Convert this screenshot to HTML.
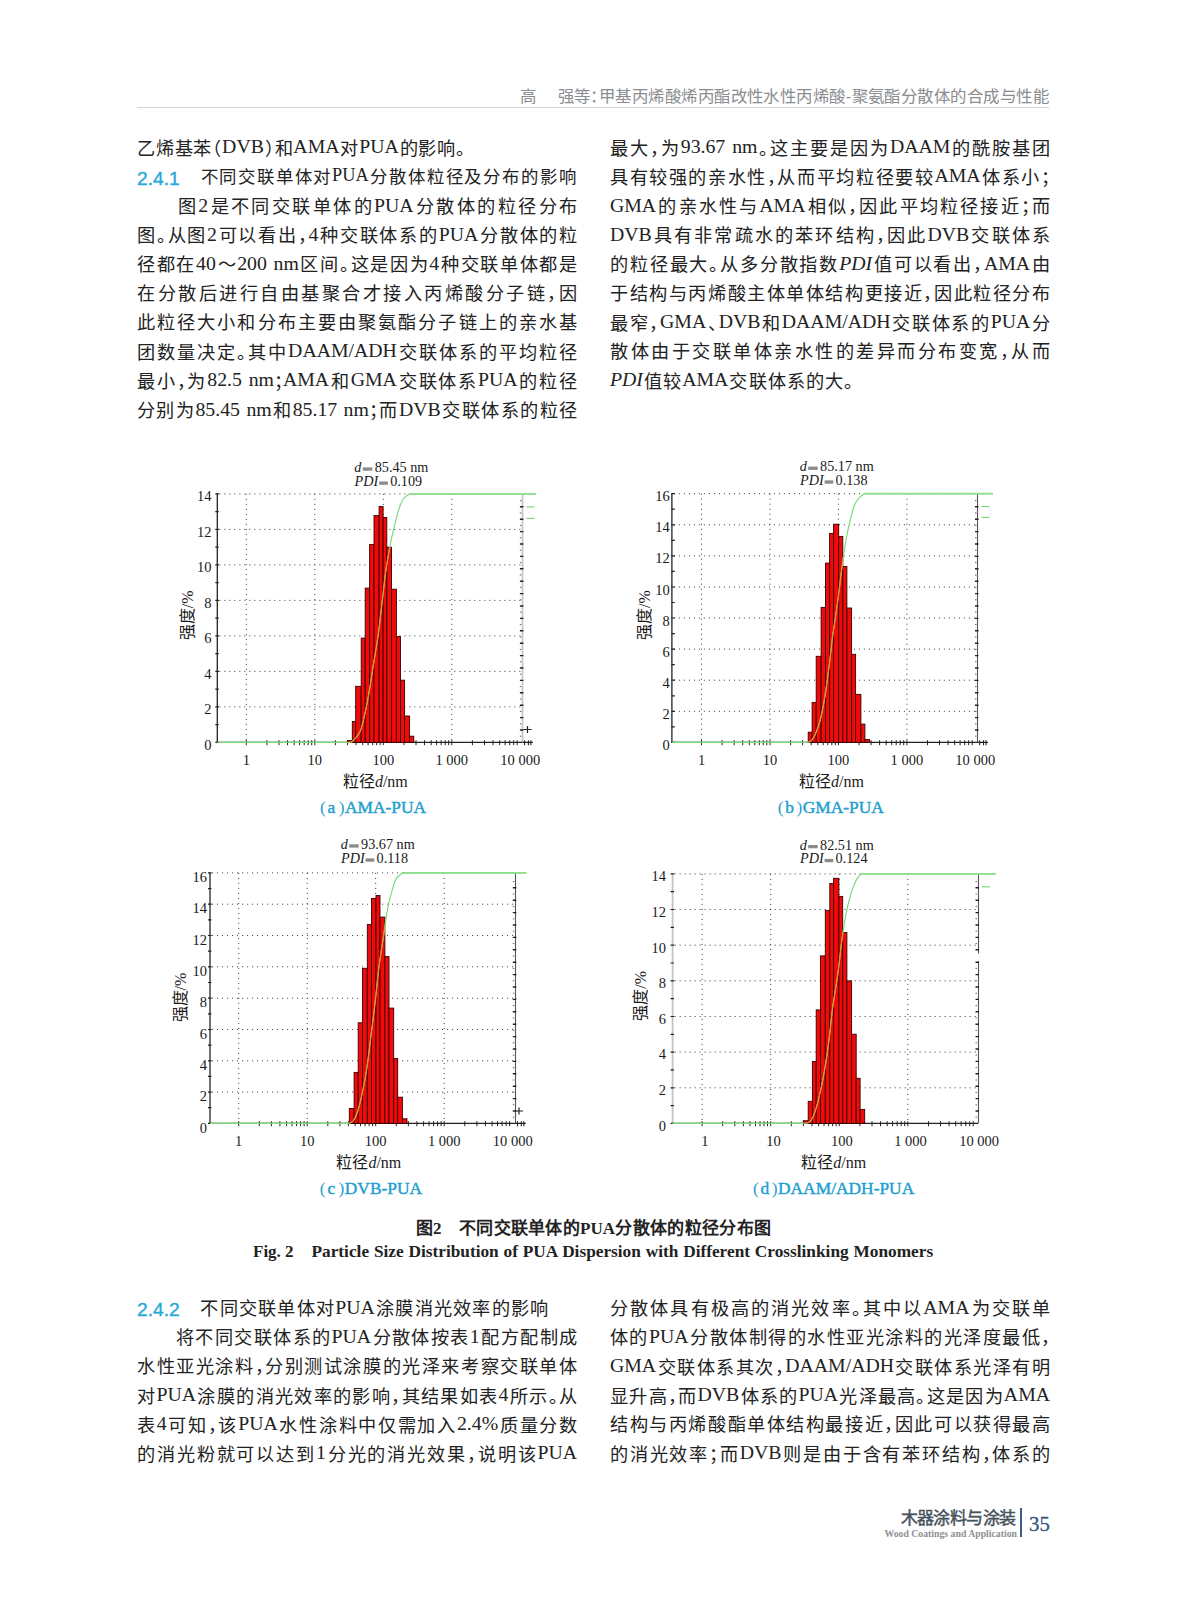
<!DOCTYPE html>
<html lang="zh-CN">
<head>
<meta charset="utf-8">
<style>
html,body{margin:0;padding:0;background:#fff;}
body{width:1187px;height:1600px;position:relative;overflow:hidden;}
.hd{position:absolute;top:86px;right:138px;font-family:"Liberation Sans",sans-serif;font-size:16.45px;letter-spacing:0.45px;font-feature-settings:"halt" 1;line-height:20px;color:#8a8d90;white-space:nowrap;}
.rule{position:absolute;left:137px;top:107px;width:912px;height:1.4px;background:#d2d4d6;}
.ln{position:absolute;width:440px;font-family:"Liberation Serif",serif;font-size:18.2px;line-height:20px;height:20px;color:#222;white-space:nowrap;text-align:justify;text-align-last:justify;font-feature-settings:"halt" 1;}
.ln.e{text-align:left;text-align-last:left;}
.L{left:137px;}
.R{left:610px;}
.sec{position:absolute;left:137px;font-family:"Liberation Sans",sans-serif;color:#26a8d8;font-size:19.2px;line-height:20px;-webkit-text-stroke:0.35px #26a8d8;}
i{font-style:italic;}
.la{font-size:19.8px;position:relative;top:-1.6px;}
.hd2 .la{font-size:18.3px;}
.cap{position:absolute;font-family:"Liberation Serif",serif;font-size:16px;color:#2aa5d4;white-space:nowrap;line-height:16px;}
.fig{position:absolute;white-space:nowrap;color:#222;}
.foot1{position:absolute;left:900.5px;top:1508.5px;font-family:"Liberation Sans",sans-serif;font-size:17px;line-height:20px;color:#46525c;white-space:nowrap;letter-spacing:-0.55px;-webkit-text-stroke:0.45px #46525c;}
.foot2{position:absolute;left:884.5px;top:1529px;font-family:"Liberation Serif",serif;font-weight:bold;font-size:9.75px;line-height:10px;color:#8e9194;white-space:nowrap;}
.bar{position:absolute;left:1020px;top:1508px;width:2px;height:29px;background:#3d5d86;}
.pg{position:absolute;left:1029px;top:1513.5px;font-family:"Liberation Serif",serif;font-size:20.8px;line-height:20px;color:#34547e;-webkit-text-stroke:0.3px #34547e;}
svg{position:absolute;left:0;top:0;}
</style>
</head>
<body>
<div class="hd">高<span style="display:inline-block;width:20.7px"></span>强等：甲基丙烯酸烯丙酯改性水性丙烯酸-聚氨酯分散体的合成与性能</div>
<div class="rule"></div>

<!-- top left column -->
<div class="ln L" style="top:137.8px;width:328px">乙烯基苯（<span class="la">DVB</span>）和<span class="la">AMA</span>对<span class="la">PUA</span>的影响。</div>
<div class="sec" style="top:169px">2.4.1</div>
<div class="ln hd2" style="top:167.0px;left:200.5px;width:375px;font-size:17.4px">不同交联单体对<span class="la">PUA</span>分散体粒径及分布的影响</div>
<div class="ln L" style="top:196.1px">　　图<span class="la">2</span>是不同交联单体的<span class="la">PUA</span>分散体的粒径分布</div>
<div class="ln L" style="top:225.2px">图。从图<span class="la">2</span>可以看出，<span class="la">4</span>种交联体系的<span class="la">PUA</span>分散体的粒</div>
<div class="ln L" style="top:254.4px">径都在<span class="la">40</span>～<span class="la">200 nm</span>区间。这是因为<span class="la">4</span>种交联单体都是</div>
<div class="ln L" style="top:283.6px">在分散后进行自由基聚合才接入丙烯酸分子链，因</div>
<div class="ln L" style="top:312.7px">此粒径大小和分布主要由聚氨酯分子链上的亲水基</div>
<div class="ln L" style="top:341.9px">团数量决定。其中<span class="la">DAAM/ADH</span>交联体系的平均粒径</div>
<div class="ln L" style="top:371.0px">最小，为<span class="la">82.5 nm</span>；<span class="la">AMA</span>和<span class="la">GMA</span>交联体系<span class="la">PUA</span>的粒径</div>
<div class="ln L" style="top:400.1px">分别为<span class="la">85.45 nm</span>和<span class="la">85.17 nm</span>；而<span class="la">DVB</span>交联体系的粒径</div>

<!-- top right column -->
<div class="ln R" style="top:137.8px">最大，为<span class="la">93.67 nm</span>。这主要是因为<span class="la">DAAM</span>的酰胺基团</div>
<div class="ln R" style="top:167.0px">具有较强的亲水性，从而平均粒径要较<span class="la">AMA</span>体系小；</div>
<div class="ln R" style="top:196.1px"><span class="la">GMA</span>的亲水性与<span class="la">AMA</span>相似，因此平均粒径接近；而</div>
<div class="ln R" style="top:225.2px"><span class="la">DVB</span>具有非常疏水的苯环结构，因此<span class="la">DVB</span>交联体系</div>
<div class="ln R" style="top:254.4px">的粒径最大。从多分散指数<i class="la">PDI</i>值可以看出，<span class="la">AMA</span>由</div>
<div class="ln R" style="top:283.6px">于结构与丙烯酸主体单体结构更接近，因此粒径分布</div>
<div class="ln R" style="top:312.7px">最窄，<span class="la">GMA</span>、<span class="la">DVB</span>和<span class="la">DAAM/ADH</span>交联体系的<span class="la">PUA</span>分</div>
<div class="ln R" style="top:341.9px">散体由于交联单体亲水性的差异而分布变宽，从而</div>
<div class="ln R" style="top:371.0px;width:243px"><i class="la">PDI</i>值较<span class="la">AMA</span>交联体系的大。</div>

<!-- figure captions -->
<div class="fig" style="left:416px;top:1218.5px;font-family:'Liberation Sans',sans-serif;font-weight:bold;font-size:17px;line-height:20px;">图<span style="font-family:'Liberation Serif',serif">2</span></div>
<div class="fig" style="left:458.9px;top:1218.5px;width:312px;text-align:justify;text-align-last:justify;font-family:'Liberation Sans',sans-serif;font-weight:bold;font-size:17px;line-height:20px;">不同交联单体的<span style="font-family:'Liberation Serif',serif">PUA</span>分散体的粒径分布图</div>
<div class="fig" style="left:253px;top:1242px;font-family:'Liberation Serif',serif;font-weight:bold;font-size:17px;line-height:20px;">Fig. 2</div>
<div class="fig" style="left:311.5px;top:1242px;font-family:'Liberation Serif',serif;font-weight:bold;font-size:17.3px;line-height:20px;word-spacing:0.5px;">Particle Size Distribution of PUA Dispersion with Different Crosslinking Monomers</div>

<!-- bottom left -->
<div class="sec" style="top:1299.6px">2.4.2</div>
<div class="ln" style="top:1298.2px;left:200.3px;width:348px">不同交联单体对<span class="la">PUA</span>涂膜消光效率的影响</div>
<div class="ln L" style="top:1327.4px">　　将不同交联体系的<span class="la">PUA</span>分散体按表<span class="la">1</span>配方配制成</div>
<div class="ln L" style="top:1356.5px">水性亚光涂料，分别测试涂膜的光泽来考察交联单体</div>
<div class="ln L" style="top:1385.7px">对<span class="la">PUA</span>涂膜的消光效率的影响，其结果如表<span class="la">4</span>所示。从</div>
<div class="ln L" style="top:1414.8px">表<span class="la">4</span>可知，该<span class="la">PUA</span>水性涂料中仅需加入<span class="la">2.4%</span>质量分数</div>
<div class="ln L" style="top:1444.0px">的消光粉就可以达到<span class="la">1</span>分光的消光效果，说明该<span class="la">PUA</span></div>

<!-- bottom right -->
<div class="ln R" style="top:1298.2px">分散体具有极高的消光效率。其中以<span class="la">AMA</span>为交联单</div>
<div class="ln R" style="top:1327.4px">体的<span class="la">PUA</span>分散体制得的水性亚光涂料的光泽度最低，</div>
<div class="ln R" style="top:1356.5px"><span class="la">GMA</span>交联体系其次，<span class="la">DAAM/ADH</span>交联体系光泽有明</div>
<div class="ln R" style="top:1385.7px">显升高，而<span class="la">DVB</span>体系的<span class="la">PUA</span>光泽最高。这是因为<span class="la">AMA</span></div>
<div class="ln R" style="top:1414.8px">结构与丙烯酸酯单体结构最接近，因此可以获得最高</div>
<div class="ln R" style="top:1444.0px">的消光效率；而<span class="la">DVB</span>则是由于含有苯环结构，体系的</div>

<!-- footer -->
<div class="foot1">木器涂料与涂装</div>
<div class="foot2">Wood Coatings and Application</div>
<div class="bar"></div>
<div class="pg">35</div>

<!--CHARTS-->
<svg width="1187" height="1600" viewBox="0 0 1187 1600">
<style>.gd{stroke:#4a4a4a;stroke-width:1;stroke-dasharray:1.1 3.9;}</style>
<line x1="219.3" y1="706.9" x2="522.4" y2="706.9" class="gd"/>
<line x1="219.3" y1="671.4" x2="522.4" y2="671.4" class="gd"/>
<line x1="219.3" y1="635.9" x2="522.4" y2="635.9" class="gd"/>
<line x1="219.3" y1="600.4" x2="522.4" y2="600.4" class="gd"/>
<line x1="219.3" y1="564.9" x2="522.4" y2="564.9" class="gd"/>
<line x1="219.3" y1="529.4" x2="522.4" y2="529.4" class="gd"/>
<line x1="219.3" y1="493.9" x2="522.4" y2="493.9" class="gd"/>
<line x1="246.3" y1="493.9" x2="246.3" y2="742.4" class="gd"/>
<line x1="314.8" y1="493.9" x2="314.8" y2="742.4" class="gd"/>
<line x1="383.3" y1="493.9" x2="383.3" y2="742.4" class="gd"/>
<line x1="451.8" y1="493.9" x2="451.8" y2="742.4" class="gd"/>
<line x1="522.5" y1="493.9" x2="522.5" y2="742.4" stroke="#c8c8c8" stroke-width="1.8"/>
<path d="M519.9 730h3.5 M519.9 717.6h3.5 M519.9 705.2h3.5 M519.9 692.8h3.5 M519.9 680.4h3.5 M519.9 668h3.5 M519.9 655.6h3.5 M519.9 643.2h3.5 M519.9 630.8h3.5 M519.9 618.4h3.5 M519.9 606h3.5 M519.9 593.6h3.5 M519.9 581.2h3.5 M519.9 568.8h3.5 M519.9 556.4h3.5 M519.9 544h3.5 M519.9 531.6h3.5 M519.9 519.2h3.5 M519.9 506.8h3.5" stroke="#222" stroke-width="1.4"/>
<path d="M519.9 736.2h1.5 M519.9 723.8h1.5 M519.9 711.4h1.5 M519.9 699h1.5 M519.9 686.6h1.5 M519.9 674.2h1.5 M519.9 661.8h1.5 M519.9 649.4h1.5 M519.9 637h1.5 M519.9 624.6h1.5 M519.9 612.2h1.5 M519.9 599.8h1.5 M519.9 587.4h1.5 M519.9 575h1.5 M519.9 562.6h1.5 M519.9 550.2h1.5 M519.9 537.8h1.5 M519.9 525.4h1.5 M519.9 513h1.5 M519.9 500.6h1.5" stroke="#666" stroke-width="1"/>
<path d="M523.5 729.5h8M527.5 726v7" stroke="#222" stroke-width="1.2"/>
<path d="M522.4 742.4h10.5M524.6 740.2v5M528.4 740.2v5M530.9 740.2v5" stroke="#222" stroke-width="1.1"/>
<line x1="217.3" y1="742.4" x2="522.4" y2="742.4" stroke="#222" stroke-width="1.2"/>
<path d="M246.3 740.2v5 M266.9 740.2v5 M279 740.2v5 M287.5 740.2v5 M294.2 740.2v5 M299.6 740.2v5 M304.2 740.2v5 M308.2 740.2v5 M311.7 740.2v5 M314.8 740.2v5 M335.4 740.2v5 M347.5 740.2v5 M356 740.2v5 M362.7 740.2v5 M368.1 740.2v5 M372.7 740.2v5 M376.7 740.2v5 M380.2 740.2v5 M383.3 740.2v5 M403.9 740.2v5 M416 740.2v5 M424.5 740.2v5 M431.2 740.2v5 M436.6 740.2v5 M441.2 740.2v5 M445.2 740.2v5 M448.7 740.2v5 M451.8 740.2v5 M472.4 740.2v5 M484.5 740.2v5 M493 740.2v5 M499.7 740.2v5 M505.1 740.2v5 M509.7 740.2v5 M513.7 740.2v5 M517.2 740.2v5" stroke="#222" stroke-width="1"/>
<line x1="217.3" y1="493.4" x2="217.3" y2="742.9" stroke="#222" stroke-width="1.3"/>
<path d="M215.3 742.4h3.6 M215.3 724.6h3.4 M215.3 706.9h3.6 M215.3 689.1h3.4 M215.3 671.4h3.6 M215.3 653.6h3.4 M215.3 635.9h3.6 M215.3 618.1h3.4 M215.3 600.4h3.6 M215.3 582.6h3.4 M215.3 564.9h3.6 M215.3 547.1h3.4 M215.3 529.4h3.6 M215.3 511.6h3.4 M215.3 493.9h3.6" stroke="#222" stroke-width="1.2"/>
<g fill="#f00a0a" stroke="#3a0000" stroke-width="0.9"><rect x="347.5" y="740.5" width="4.8" height="1.9"/><rect x="352.3" y="721.5" width="3.4" height="20.9"/><rect x="355.7" y="686.3" width="5.5" height="56.1"/><rect x="361.2" y="638.1" width="4" height="104.3"/><rect x="365.2" y="588.1" width="4.4" height="154.3"/><rect x="369.6" y="544.5" width="4.4" height="197.9"/><rect x="374" y="515.6" width="5.1" height="226.8"/><rect x="379.1" y="506.5" width="4" height="235.9"/><rect x="383.1" y="517.5" width="3.7" height="224.9"/><rect x="386.8" y="547.2" width="4.7" height="195.2"/><rect x="391.5" y="589.2" width="4.9" height="153.2"/><rect x="396.4" y="636.6" width="4.1" height="105.8"/><rect x="400.5" y="680.2" width="4.1" height="62.2"/><rect x="404.6" y="716" width="5" height="26.4"/><rect x="409.6" y="736.2" width="4.2" height="6.2"/></g>
<path d="M217.3 742.4L346.5 742.4C347.3 742.4 349.9 742.7 351.3 742.1C352.7 741.6 353.2 741 354.7 739.2C356.2 737.4 358.6 735.1 360.2 731.3C361.8 727.6 362.8 722.8 364.2 716.7C365.6 710.7 367.1 703.3 368.6 695.1C370.1 686.8 371.4 677.2 373 667.3C374.6 657.4 376.6 646.3 378.1 635.5C379.6 624.7 380.8 613.2 382.1 602.4C383.4 591.7 384.4 580.7 385.8 570.9C387.2 561.1 388.9 551.7 390.5 543.5C392.1 535.4 393.9 528.1 395.4 522C396.9 516 398.1 511.1 399.5 507.2C400.9 503.3 401.9 500.7 403.6 498.5C405.3 496.3 408.7 494.7 409.7 493.9L536 493.9" fill="none" stroke="#78da78" stroke-width="1.15"/>
<line x1="409.7" y1="493.9" x2="536" y2="493.9" stroke="#8ee08e" stroke-width="1.8"/>
<clipPath id="clipa"><rect x="347.5" y="740.5" width="4.8" height="1.9"/><rect x="352.3" y="721.5" width="3.4" height="20.9"/><rect x="355.7" y="686.3" width="5.5" height="56.1"/><rect x="361.2" y="638.1" width="4" height="104.3"/><rect x="365.2" y="588.1" width="4.4" height="154.3"/><rect x="369.6" y="544.5" width="4.4" height="197.9"/><rect x="374" y="515.6" width="5.1" height="226.8"/><rect x="379.1" y="506.5" width="4" height="235.9"/><rect x="383.1" y="517.5" width="3.7" height="224.9"/><rect x="386.8" y="547.2" width="4.7" height="195.2"/><rect x="391.5" y="589.2" width="4.9" height="153.2"/><rect x="396.4" y="636.6" width="4.1" height="105.8"/><rect x="400.5" y="680.2" width="4.1" height="62.2"/><rect x="404.6" y="716" width="5" height="26.4"/><rect x="409.6" y="736.2" width="4.2" height="6.2"/></clipPath>
<path d="M217.3 742.4L346.5 742.4C347.3 742.4 349.9 742.7 351.3 742.1C352.7 741.6 353.2 741 354.7 739.2C356.2 737.4 358.6 735.1 360.2 731.3C361.8 727.6 362.8 722.8 364.2 716.7C365.6 710.7 367.1 703.3 368.6 695.1C370.1 686.8 371.4 677.2 373 667.3C374.6 657.4 376.6 646.3 378.1 635.5C379.6 624.7 380.8 613.2 382.1 602.4C383.4 591.7 384.4 580.7 385.8 570.9C387.2 561.1 388.9 551.7 390.5 543.5C392.1 535.4 393.9 528.1 395.4 522C396.9 516 398.1 511.1 399.5 507.2C400.9 503.3 401.9 500.7 403.6 498.5C405.3 496.3 408.7 494.7 409.7 493.9L536 493.9" fill="none" stroke="#f09028" stroke-width="1" clip-path="url(#clipa)"/>
<line x1="526.4" y1="506.9" x2="534.4" y2="506.9" stroke="#7ad87a" stroke-width="1.2"/>
<line x1="526.4" y1="518.4" x2="534.4" y2="518.4" stroke="#7ad87a" stroke-width="1.2"/>
<g font-family="'Liberation Serif',serif" font-size="14.5" fill="#1a1a1a"><text x="211.4" y="749.9" text-anchor="end">0</text><text x="211.4" y="714.4" text-anchor="end">2</text><text x="211.4" y="678.9" text-anchor="end">4</text><text x="211.4" y="643.4" text-anchor="end">6</text><text x="211.4" y="607.9" text-anchor="end">8</text><text x="211.4" y="572.4" text-anchor="end">10</text><text x="211.4" y="536.9" text-anchor="end">12</text><text x="211.4" y="501.4" text-anchor="end">14</text><text x="246.3" y="764.9" text-anchor="middle">1</text><text x="314.8" y="764.9" text-anchor="middle">10</text><text x="383.3" y="764.9" text-anchor="middle">100</text><text x="451.8" y="764.9" text-anchor="middle">1 000</text><text x="520.3" y="764.9" text-anchor="middle">10 000</text></g>
<g font-family="'Liberation Serif',serif" font-size="14.2" fill="#1a1a1a"><text x="354.3" y="472" font-style="italic">d</text><text x="374.7" y="472">85.45 nm</text><text x="354.6" y="485.9" font-style="italic">PDI</text><text x="390.2" y="485.9">0.109</text></g>
<rect x="362.8" y="467.4" width="9.5" height="3.3" fill="#8a8a8a"/>
<rect x="379.2" y="481.5" width="8.7" height="3.3" fill="#8a8a8a"/>
<text x="342.9" y="787" font-family="'Liberation Serif',serif" font-size="16" fill="#1a1a1a">粒径<tspan font-style="italic">d</tspan>/nm</text>
<text transform="translate(192.7 615.4) rotate(-90)" text-anchor="middle" font-family="'Liberation Serif',serif" font-size="16" fill="#1a1a1a">强度/%</text>
<g font-family="'Liberation Serif',serif" font-size="17.4" fill="#1fa0cf"><text x="320" y="812.6">(</text><text x="327.6" y="812.6" stroke="#1fa0cf" stroke-width="0.45">a</text><text x="338.8" y="812.6">)</text><text x="345" y="812.6" stroke="#1fa0cf" stroke-width="0.45">AMA-PUA</text></g>
<line x1="673.9" y1="711.3" x2="977.5" y2="711.3" class="gd"/>
<line x1="673.9" y1="680.2" x2="977.5" y2="680.2" class="gd"/>
<line x1="673.9" y1="649.1" x2="977.5" y2="649.1" class="gd"/>
<line x1="673.9" y1="618" x2="977.5" y2="618" class="gd"/>
<line x1="673.9" y1="587" x2="977.5" y2="587" class="gd"/>
<line x1="673.9" y1="555.9" x2="977.5" y2="555.9" class="gd"/>
<line x1="673.9" y1="524.8" x2="977.5" y2="524.8" class="gd"/>
<line x1="673.9" y1="493.7" x2="977.5" y2="493.7" class="gd"/>
<line x1="701.5" y1="493.7" x2="701.5" y2="742.4" class="gd"/>
<line x1="770" y1="493.7" x2="770" y2="742.4" class="gd"/>
<line x1="838.4" y1="493.7" x2="838.4" y2="742.4" class="gd"/>
<line x1="906.9" y1="493.7" x2="906.9" y2="742.4" class="gd"/>
<line x1="977.5" y1="493.7" x2="977.5" y2="742.4" stroke="#555" stroke-width="1.1"/>
<path d="M975 730h3.5 M975 717.6h3.5 M975 705.2h3.5 M975 692.8h3.5 M975 680.4h3.5 M975 668h3.5 M975 655.6h3.5 M975 643.2h3.5 M975 630.8h3.5 M975 618.4h3.5 M975 606h3.5 M975 593.6h3.5 M975 581.2h3.5 M975 568.8h3.5 M975 556.4h3.5 M975 544h3.5 M975 531.6h3.5 M975 519.2h3.5 M975 506.8h3.5" stroke="#222" stroke-width="1.4"/>
<path d="M975 736.2h1.5 M975 723.8h1.5 M975 711.4h1.5 M975 699h1.5 M975 686.6h1.5 M975 674.2h1.5 M975 661.8h1.5 M975 649.4h1.5 M975 637h1.5 M975 624.6h1.5 M975 612.2h1.5 M975 599.8h1.5 M975 587.4h1.5 M975 575h1.5 M975 562.6h1.5 M975 550.2h1.5 M975 537.8h1.5 M975 525.4h1.5 M975 513h1.5 M975 500.6h1.5" stroke="#666" stroke-width="1"/>
<path d="M977.5 742.4h10.5M979.7 740.2v5M983.5 740.2v5M986 740.2v5" stroke="#222" stroke-width="1.1"/>
<line x1="671.9" y1="742.4" x2="977.5" y2="742.4" stroke="#222" stroke-width="1.2"/>
<path d="M701.5 740.2v5 M722.1 740.2v5 M734.2 740.2v5 M742.7 740.2v5 M749.3 740.2v5 M754.8 740.2v5 M759.3 740.2v5 M763.3 740.2v5 M766.8 740.2v5 M770 740.2v5 M790.6 740.2v5 M802.6 740.2v5 M811.2 740.2v5 M817.8 740.2v5 M823.2 740.2v5 M827.8 740.2v5 M831.8 740.2v5 M835.3 740.2v5 M838.4 740.2v5 M859 740.2v5 M871.1 740.2v5 M879.6 740.2v5 M886.2 740.2v5 M891.7 740.2v5 M896.2 740.2v5 M900.2 740.2v5 M903.7 740.2v5 M906.9 740.2v5 M927.5 740.2v5 M939.5 740.2v5 M948.1 740.2v5 M954.7 740.2v5 M960.1 740.2v5 M964.7 740.2v5 M968.7 740.2v5 M972.2 740.2v5" stroke="#222" stroke-width="1"/>
<line x1="671.9" y1="493.2" x2="671.9" y2="742.9" stroke="#222" stroke-width="1.3"/>
<path d="M671.4 742.4h3.6 M671.4 726.9h3.4 M671.4 711.3h3.6 M671.4 695.8h3.4 M671.4 680.2h3.6 M671.4 664.7h3.4 M671.4 649.1h3.6 M671.4 633.6h3.4 M671.4 618h3.6 M671.4 602.5h3.4 M671.4 587h3.6 M671.4 571.4h3.4 M671.4 555.9h3.6 M671.4 540.3h3.4 M671.4 524.8h3.6 M671.4 509.2h3.4 M671.4 493.7h3.6" stroke="#222" stroke-width="1.2"/>
<g fill="#f00a0a" stroke="#3a0000" stroke-width="0.9"><rect x="808.2" y="732.2" width="3.9" height="10.2"/><rect x="812.1" y="702.4" width="4.1" height="40"/><rect x="816.2" y="656.3" width="4.9" height="86.1"/><rect x="821.1" y="607.4" width="4.4" height="135"/><rect x="825.5" y="563.1" width="4.1" height="179.3"/><rect x="829.6" y="533.4" width="4" height="209"/><rect x="833.6" y="524.2" width="5.1" height="218.2"/><rect x="838.7" y="536.5" width="4.1" height="205.9"/><rect x="842.8" y="566.5" width="4.1" height="175.9"/><rect x="846.9" y="608" width="4.7" height="134.4"/><rect x="851.6" y="654.3" width="4" height="88.1"/><rect x="855.6" y="694.4" width="5.3" height="48"/><rect x="860.9" y="724.1" width="4" height="18.3"/><rect x="864.9" y="739.6" width="4.7" height="2.8"/></g>
<path d="M671.9 742.4L807.2 742.4C807.9 742.1 809.8 742.1 811.1 740.8C812.4 739.4 813.7 737.7 815.2 734.4C816.7 731 818.6 726.5 820.1 720.5C821.6 714.6 823.1 707.3 824.5 698.9C825.9 690.5 827.2 680.5 828.6 670.2C830 659.8 831.1 648.1 832.6 636.6C834.1 625.2 836.2 613 837.7 601.7C839.2 590.3 840.4 578.9 841.8 568.7C843.2 558.5 844.4 548.7 845.9 540.5C847.4 532.2 849.1 524.8 850.6 518.9C852.1 513 853.1 508.4 854.6 504.8C856.1 501.1 858.3 498.9 859.9 497.1C861.5 495.2 863.6 494.3 864.4 493.7L993 493.7" fill="none" stroke="#78da78" stroke-width="1.15"/>
<line x1="864.4" y1="493.7" x2="993" y2="493.7" stroke="#8ee08e" stroke-width="1.8"/>
<clipPath id="clipb"><rect x="808.2" y="732.2" width="3.9" height="10.2"/><rect x="812.1" y="702.4" width="4.1" height="40"/><rect x="816.2" y="656.3" width="4.9" height="86.1"/><rect x="821.1" y="607.4" width="4.4" height="135"/><rect x="825.5" y="563.1" width="4.1" height="179.3"/><rect x="829.6" y="533.4" width="4" height="209"/><rect x="833.6" y="524.2" width="5.1" height="218.2"/><rect x="838.7" y="536.5" width="4.1" height="205.9"/><rect x="842.8" y="566.5" width="4.1" height="175.9"/><rect x="846.9" y="608" width="4.7" height="134.4"/><rect x="851.6" y="654.3" width="4" height="88.1"/><rect x="855.6" y="694.4" width="5.3" height="48"/><rect x="860.9" y="724.1" width="4" height="18.3"/><rect x="864.9" y="739.6" width="4.7" height="2.8"/></clipPath>
<path d="M671.9 742.4L807.2 742.4C807.9 742.1 809.8 742.1 811.1 740.8C812.4 739.4 813.7 737.7 815.2 734.4C816.7 731 818.6 726.5 820.1 720.5C821.6 714.6 823.1 707.3 824.5 698.9C825.9 690.5 827.2 680.5 828.6 670.2C830 659.8 831.1 648.1 832.6 636.6C834.1 625.2 836.2 613 837.7 601.7C839.2 590.3 840.4 578.9 841.8 568.7C843.2 558.5 844.4 548.7 845.9 540.5C847.4 532.2 849.1 524.8 850.6 518.9C852.1 513 853.1 508.4 854.6 504.8C856.1 501.1 858.3 498.9 859.9 497.1C861.5 495.2 863.6 494.3 864.4 493.7L993 493.7" fill="none" stroke="#f09028" stroke-width="1" clip-path="url(#clipb)"/>
<line x1="981.5" y1="506.5" x2="989.5" y2="506.5" stroke="#7ad87a" stroke-width="1.2"/>
<line x1="981.5" y1="517.4" x2="989.5" y2="517.4" stroke="#7ad87a" stroke-width="1.2"/>
<g font-family="'Liberation Serif',serif" font-size="14.5" fill="#1a1a1a"><text x="669.7" y="749.9" text-anchor="end">0</text><text x="669.7" y="718.8" text-anchor="end">2</text><text x="669.7" y="687.7" text-anchor="end">4</text><text x="669.7" y="656.6" text-anchor="end">6</text><text x="669.7" y="625.5" text-anchor="end">8</text><text x="669.7" y="594.5" text-anchor="end">10</text><text x="669.7" y="563.4" text-anchor="end">12</text><text x="669.7" y="532.3" text-anchor="end">14</text><text x="669.7" y="501.2" text-anchor="end">16</text><text x="701.5" y="764.9" text-anchor="middle">1</text><text x="770" y="764.9" text-anchor="middle">10</text><text x="838.4" y="764.9" text-anchor="middle">100</text><text x="906.9" y="764.9" text-anchor="middle">1 000</text><text x="975.3" y="764.9" text-anchor="middle">10 000</text></g>
<g font-family="'Liberation Serif',serif" font-size="14.2" fill="#1a1a1a"><text x="799.7" y="471.2" font-style="italic">d</text><text x="820.1" y="471.2">85.17 nm</text><text x="800" y="484.8" font-style="italic">PDI</text><text x="835.6" y="484.8">0.138</text></g>
<rect x="808.2" y="466.6" width="9.5" height="3.3" fill="#8a8a8a"/>
<rect x="824.6" y="480.4" width="8.7" height="3.3" fill="#8a8a8a"/>
<text x="799" y="787" font-family="'Liberation Serif',serif" font-size="16" fill="#1a1a1a">粒径<tspan font-style="italic">d</tspan>/nm</text>
<text transform="translate(649.5 615.1) rotate(-90)" text-anchor="middle" font-family="'Liberation Serif',serif" font-size="16" fill="#1a1a1a">强度/%</text>
<g font-family="'Liberation Serif',serif" font-size="17.4" fill="#1fa0cf"><text x="777.7" y="812.6">(</text><text x="785.3" y="812.6" stroke="#1fa0cf" stroke-width="0.45">b</text><text x="796.5" y="812.6">)</text><text x="802.7" y="812.6" stroke="#1fa0cf" stroke-width="0.45">GMA-PUA</text></g>
<line x1="212" y1="1092.1" x2="515.3" y2="1092.1" class="gd"/>
<line x1="212" y1="1060.8" x2="515.3" y2="1060.8" class="gd"/>
<line x1="212" y1="1029.5" x2="515.3" y2="1029.5" class="gd"/>
<line x1="212" y1="998.2" x2="515.3" y2="998.2" class="gd"/>
<line x1="212" y1="966.8" x2="515.3" y2="966.8" class="gd"/>
<line x1="212" y1="935.5" x2="515.3" y2="935.5" class="gd"/>
<line x1="212" y1="904.2" x2="515.3" y2="904.2" class="gd"/>
<line x1="212" y1="872.9" x2="515.3" y2="872.9" class="gd"/>
<line x1="238.7" y1="872.9" x2="238.7" y2="1123.4" class="gd"/>
<line x1="307.2" y1="872.9" x2="307.2" y2="1123.4" class="gd"/>
<line x1="375.7" y1="872.9" x2="375.7" y2="1123.4" class="gd"/>
<line x1="444.2" y1="872.9" x2="444.2" y2="1123.4" class="gd"/>
<line x1="515.5" y1="872.9" x2="515.5" y2="1123.4" stroke="#555" stroke-width="1.1"/>
<path d="M512.8 1111h3.5 M512.8 1098.6h3.5 M512.8 1086.2h3.5 M512.8 1073.8h3.5 M512.8 1061.4h3.5 M512.8 1049h3.5 M512.8 1036.6h3.5 M512.8 1024.2h3.5 M512.8 1011.8h3.5 M512.8 999.4h3.5 M512.8 987h3.5 M512.8 974.6h3.5 M512.8 962.2h3.5 M512.8 949.8h3.5 M512.8 937.4h3.5 M512.8 925h3.5 M512.8 912.6h3.5 M512.8 900.2h3.5 M512.8 887.8h3.5" stroke="#222" stroke-width="1.4"/>
<path d="M512.8 1117.2h1.5 M512.8 1104.8h1.5 M512.8 1092.4h1.5 M512.8 1080h1.5 M512.8 1067.6h1.5 M512.8 1055.2h1.5 M512.8 1042.8h1.5 M512.8 1030.4h1.5 M512.8 1018h1.5 M512.8 1005.6h1.5 M512.8 993.2h1.5 M512.8 980.8h1.5 M512.8 968.4h1.5 M512.8 956h1.5 M512.8 943.6h1.5 M512.8 931.2h1.5 M512.8 918.8h1.5 M512.8 906.4h1.5 M512.8 894h1.5 M512.8 881.6h1.5" stroke="#666" stroke-width="1"/>
<path d="M515 1111h8M519 1107.5v7" stroke="#222" stroke-width="1.2"/>
<path d="M515.3 1123.4h10.5M517.5 1121.2v5M521.3 1121.2v5M523.8 1121.2v5" stroke="#222" stroke-width="1.1"/>
<line x1="210" y1="1123.4" x2="515.3" y2="1123.4" stroke="#222" stroke-width="1.2"/>
<path d="M238.7 1121.2v5 M259.3 1121.2v5 M271.4 1121.2v5 M279.9 1121.2v5 M286.6 1121.2v5 M292 1121.2v5 M296.6 1121.2v5 M300.6 1121.2v5 M304.1 1121.2v5 M307.2 1121.2v5 M327.8 1121.2v5 M339.9 1121.2v5 M348.4 1121.2v5 M355.1 1121.2v5 M360.5 1121.2v5 M365.1 1121.2v5 M369.1 1121.2v5 M372.6 1121.2v5 M375.7 1121.2v5 M396.3 1121.2v5 M408.4 1121.2v5 M416.9 1121.2v5 M423.6 1121.2v5 M429 1121.2v5 M433.6 1121.2v5 M437.6 1121.2v5 M441.1 1121.2v5 M444.2 1121.2v5 M464.8 1121.2v5 M476.9 1121.2v5 M485.4 1121.2v5 M492.1 1121.2v5 M497.5 1121.2v5 M502.1 1121.2v5 M506.1 1121.2v5 M509.6 1121.2v5" stroke="#222" stroke-width="1"/>
<line x1="210" y1="872.4" x2="210" y2="1123.9" stroke="#222" stroke-width="1.3"/>
<path d="M208 1123.4h3.6 M208 1107.7h3.4 M208 1092.1h3.6 M208 1076.4h3.4 M208 1060.8h3.6 M208 1045.1h3.4 M208 1029.5h3.6 M208 1013.8h3.4 M208 998.2h3.6 M208 982.5h3.4 M208 966.8h3.6 M208 951.2h3.4 M208 935.5h3.6 M208 919.9h3.4 M208 904.2h3.6 M208 888.6h3.4 M208 872.9h3.6" stroke="#222" stroke-width="1.2"/>
<g fill="#f00a0a" stroke="#3a0000" stroke-width="0.9"><rect x="349.3" y="1108.5" width="4.8" height="14.9"/><rect x="354.1" y="1072.4" width="4.1" height="51"/><rect x="358.2" y="1022.8" width="4.3" height="100.6"/><rect x="362.5" y="968.3" width="4.8" height="155.1"/><rect x="367.3" y="924.4" width="4.2" height="199"/><rect x="371.5" y="898.4" width="4.5" height="225"/><rect x="376" y="895.5" width="4" height="227.9"/><rect x="380" y="917.1" width="4.9" height="206.3"/><rect x="384.9" y="956.6" width="4.1" height="166.8"/><rect x="389" y="1008.1" width="4.7" height="115.3"/><rect x="393.7" y="1058.6" width="4" height="64.8"/><rect x="397.7" y="1097.2" width="4.7" height="26.2"/><rect x="402.4" y="1118.8" width="4.6" height="4.6"/></g>
<path d="M210 1123.4L348.3 1123.4C349.1 1123 351.6 1122.8 353.1 1121C354.6 1119.2 355.8 1116.9 357.2 1112.8C358.6 1108.7 360 1103.5 361.5 1096.6C363 1089.8 364.8 1081.2 366.3 1071.7C367.8 1062.2 369.1 1051 370.5 1039.7C371.9 1028.3 373.6 1015.6 375 1003.5C376.4 991.3 377.5 978.5 379 966.8C380.5 955.2 382.4 943.6 383.9 933.6C385.4 923.6 386.5 914.4 388 906.8C389.5 899.3 391.2 893.1 392.7 888.3C394.1 883.4 395 880.4 396.7 877.9C398.4 875.3 401.9 873.7 402.9 872.9L526.3 872.9" fill="none" stroke="#78da78" stroke-width="1.15"/>
<line x1="402.9" y1="872.9" x2="526.3" y2="872.9" stroke="#8ee08e" stroke-width="1.8"/>
<clipPath id="clipc"><rect x="349.3" y="1108.5" width="4.8" height="14.9"/><rect x="354.1" y="1072.4" width="4.1" height="51"/><rect x="358.2" y="1022.8" width="4.3" height="100.6"/><rect x="362.5" y="968.3" width="4.8" height="155.1"/><rect x="367.3" y="924.4" width="4.2" height="199"/><rect x="371.5" y="898.4" width="4.5" height="225"/><rect x="376" y="895.5" width="4" height="227.9"/><rect x="380" y="917.1" width="4.9" height="206.3"/><rect x="384.9" y="956.6" width="4.1" height="166.8"/><rect x="389" y="1008.1" width="4.7" height="115.3"/><rect x="393.7" y="1058.6" width="4" height="64.8"/><rect x="397.7" y="1097.2" width="4.7" height="26.2"/><rect x="402.4" y="1118.8" width="4.6" height="4.6"/></clipPath>
<path d="M210 1123.4L348.3 1123.4C349.1 1123 351.6 1122.8 353.1 1121C354.6 1119.2 355.8 1116.9 357.2 1112.8C358.6 1108.7 360 1103.5 361.5 1096.6C363 1089.8 364.8 1081.2 366.3 1071.7C367.8 1062.2 369.1 1051 370.5 1039.7C371.9 1028.3 373.6 1015.6 375 1003.5C376.4 991.3 377.5 978.5 379 966.8C380.5 955.2 382.4 943.6 383.9 933.6C385.4 923.6 386.5 914.4 388 906.8C389.5 899.3 391.2 893.1 392.7 888.3C394.1 883.4 395 880.4 396.7 877.9C398.4 875.3 401.9 873.7 402.9 872.9L526.3 872.9" fill="none" stroke="#f09028" stroke-width="1" clip-path="url(#clipc)"/>
<g font-family="'Liberation Serif',serif" font-size="14.5" fill="#1a1a1a"><text x="207" y="1132.6" text-anchor="end">0</text><text x="207" y="1101.3" text-anchor="end">2</text><text x="207" y="1070" text-anchor="end">4</text><text x="207" y="1038.7" text-anchor="end">6</text><text x="207" y="1007.4" text-anchor="end">8</text><text x="207" y="976" text-anchor="end">10</text><text x="207" y="944.7" text-anchor="end">12</text><text x="207" y="913.4" text-anchor="end">14</text><text x="207" y="882.1" text-anchor="end">16</text><text x="238.7" y="1145.9" text-anchor="middle">1</text><text x="307.2" y="1145.9" text-anchor="middle">10</text><text x="375.7" y="1145.9" text-anchor="middle">100</text><text x="444.2" y="1145.9" text-anchor="middle">1 000</text><text x="512.7" y="1145.9" text-anchor="middle">10 000</text></g>
<g font-family="'Liberation Serif',serif" font-size="14.2" fill="#1a1a1a"><text x="340.7" y="848.9" font-style="italic">d</text><text x="361.1" y="848.9">93.67 nm</text><text x="341" y="862.8" font-style="italic">PDI</text><text x="376.6" y="862.8">0.118</text></g>
<rect x="349.2" y="844.3" width="9.5" height="3.3" fill="#8a8a8a"/>
<rect x="365.6" y="858.4" width="8.7" height="3.3" fill="#8a8a8a"/>
<text x="336.4" y="1168" font-family="'Liberation Serif',serif" font-size="16" fill="#1a1a1a">粒径<tspan font-style="italic">d</tspan>/nm</text>
<text transform="translate(186.2 997.6) rotate(-90)" text-anchor="middle" font-family="'Liberation Serif',serif" font-size="16" fill="#1a1a1a">强度/%</text>
<g font-family="'Liberation Serif',serif" font-size="17.4" fill="#1fa0cf"><text x="319.8" y="1193.6">(</text><text x="327.4" y="1193.6" stroke="#1fa0cf" stroke-width="0.45">c</text><text x="338.6" y="1193.6">)</text><text x="344.8" y="1193.6" stroke="#1fa0cf" stroke-width="0.45">DVB-PUA</text></g>
<line x1="674.6" y1="1087.8" x2="978" y2="1087.8" class="gd"/>
<line x1="674.6" y1="1052.1" x2="978" y2="1052.1" class="gd"/>
<line x1="674.6" y1="1016.5" x2="978" y2="1016.5" class="gd"/>
<line x1="674.6" y1="980.8" x2="978" y2="980.8" class="gd"/>
<line x1="674.6" y1="945.2" x2="978" y2="945.2" class="gd"/>
<line x1="674.6" y1="909.5" x2="978" y2="909.5" class="gd"/>
<line x1="674.6" y1="873.9" x2="978" y2="873.9" class="gd"/>
<line x1="702.1" y1="873.9" x2="702.1" y2="1123.4" class="gd"/>
<line x1="770.7" y1="873.9" x2="770.7" y2="1123.4" class="gd"/>
<line x1="839.2" y1="873.9" x2="839.2" y2="1123.4" class="gd"/>
<line x1="907.8" y1="873.9" x2="907.8" y2="1123.4" class="gd"/>
<line x1="978.5" y1="873.9" x2="978.5" y2="1123.4" stroke="#555" stroke-width="1.1"/>
<path d="M975.5 1111h3.5 M975.5 1098.6h3.5 M975.5 1086.2h3.5 M975.5 1073.8h3.5 M975.5 1061.4h3.5 M975.5 1049h3.5 M975.5 1036.6h3.5 M975.5 1024.2h3.5 M975.5 1011.8h3.5 M975.5 999.4h3.5 M975.5 987h3.5 M975.5 974.6h3.5 M975.5 962.2h3.5 M975.5 949.8h3.5 M975.5 937.4h3.5 M975.5 925h3.5 M975.5 912.6h3.5 M975.5 900.2h3.5 M975.5 887.8h3.5" stroke="#222" stroke-width="1.4"/>
<path d="M975.5 1117.2h1.5 M975.5 1104.8h1.5 M975.5 1092.4h1.5 M975.5 1080h1.5 M975.5 1067.6h1.5 M975.5 1055.2h1.5 M975.5 1042.8h1.5 M975.5 1030.4h1.5 M975.5 1018h1.5 M975.5 1005.6h1.5 M975.5 993.2h1.5 M975.5 980.8h1.5 M975.5 968.4h1.5 M975.5 956h1.5 M975.5 943.6h1.5 M975.5 931.2h1.5 M975.5 918.8h1.5 M975.5 906.4h1.5 M975.5 894h1.5 M975.5 881.6h1.5" stroke="#666" stroke-width="1"/>
<rect x="975" y="953.5" width="6" height="7.5" fill="#fff"/>
<line x1="672.6" y1="1123.4" x2="978" y2="1123.4" stroke="#222" stroke-width="1.2"/>
<path d="M702.1 1121.2v5 M722.7 1121.2v5 M734.8 1121.2v5 M743.4 1121.2v5 M750 1121.2v5 M755.5 1121.2v5 M760 1121.2v5 M764 1121.2v5 M767.5 1121.2v5 M770.7 1121.2v5 M791.3 1121.2v5 M803.4 1121.2v5 M812 1121.2v5 M818.6 1121.2v5 M824 1121.2v5 M828.6 1121.2v5 M832.6 1121.2v5 M836.1 1121.2v5 M839.2 1121.2v5 M859.9 1121.2v5 M872 1121.2v5 M880.5 1121.2v5 M887.2 1121.2v5 M892.6 1121.2v5 M897.2 1121.2v5 M901.2 1121.2v5 M904.7 1121.2v5 M907.8 1121.2v5 M928.5 1121.2v5 M940.5 1121.2v5 M949.1 1121.2v5 M955.7 1121.2v5 M961.2 1121.2v5 M965.8 1121.2v5 M969.7 1121.2v5 M973.2 1121.2v5" stroke="#222" stroke-width="1"/>
<line x1="672.6" y1="873.4" x2="672.6" y2="1123.9" stroke="#c4c4c4" stroke-width="1.8"/>
<path d="M670.6 1123.4h3.6 M670.6 1105.6h3.4 M670.6 1087.8h3.6 M670.6 1069.9h3.4 M670.6 1052.1h3.6 M670.6 1034.3h3.4 M670.6 1016.5h3.6 M670.6 998.7h3.4 M670.6 980.8h3.6 M670.6 963h3.4 M670.6 945.2h3.6 M670.6 927.4h3.4 M670.6 909.5h3.6 M670.6 891.7h3.4 M670.6 873.9h3.6" stroke="#222" stroke-width="1.2"/>
<g fill="#f00a0a" stroke="#3a0000" stroke-width="0.9"><rect x="803.3" y="1120.7" width="4.9" height="2.7"/><rect x="808.2" y="1101.3" width="4.2" height="22.1"/><rect x="812.4" y="1061.5" width="3.8" height="61.9"/><rect x="816.2" y="1009.9" width="4.3" height="113.5"/><rect x="820.5" y="955.9" width="4.8" height="167.5"/><rect x="825.3" y="910.4" width="4.5" height="213"/><rect x="829.8" y="883.5" width="3.8" height="239.9"/><rect x="833.6" y="878.3" width="5.3" height="245.1"/><rect x="838.9" y="896.4" width="3.8" height="227"/><rect x="842.7" y="932.5" width="4.2" height="190.9"/><rect x="846.9" y="980.9" width="4.7" height="142.5"/><rect x="851.6" y="1034.2" width="4.6" height="89.2"/><rect x="856.2" y="1078.3" width="3.9" height="45.1"/><rect x="860.1" y="1109.4" width="4.6" height="14"/></g>
<path d="M672.6 1123.4L802.3 1123.4C803.1 1123.3 805.7 1123.6 807.2 1123C808.7 1122.4 810.1 1121.9 811.4 1119.9C812.7 1117.9 813.9 1115.3 815.2 1111.2C816.6 1107.1 818 1101.8 819.5 1095.2C821 1088.7 822.8 1080.6 824.3 1071.7C825.8 1062.8 827.4 1052.4 828.8 1041.7C830.2 1031.1 831.1 1019.4 832.6 1008C834.1 996.6 836.4 984.6 837.9 973.6C839.4 962.5 840.4 951.4 841.7 941.6C843 931.8 844.4 922.6 845.9 914.8C847.4 907 849 900.2 850.6 894.8C852.2 889.3 853.8 885.4 855.2 882.2C856.6 879.1 858 877.3 859.1 875.9C860.2 874.5 861.4 874.2 861.9 873.9L995.5 873.9" fill="none" stroke="#78da78" stroke-width="1.15"/>
<line x1="861.9" y1="873.9" x2="995.5" y2="873.9" stroke="#8ee08e" stroke-width="1.8"/>
<clipPath id="clipd"><rect x="803.3" y="1120.7" width="4.9" height="2.7"/><rect x="808.2" y="1101.3" width="4.2" height="22.1"/><rect x="812.4" y="1061.5" width="3.8" height="61.9"/><rect x="816.2" y="1009.9" width="4.3" height="113.5"/><rect x="820.5" y="955.9" width="4.8" height="167.5"/><rect x="825.3" y="910.4" width="4.5" height="213"/><rect x="829.8" y="883.5" width="3.8" height="239.9"/><rect x="833.6" y="878.3" width="5.3" height="245.1"/><rect x="838.9" y="896.4" width="3.8" height="227"/><rect x="842.7" y="932.5" width="4.2" height="190.9"/><rect x="846.9" y="980.9" width="4.7" height="142.5"/><rect x="851.6" y="1034.2" width="4.6" height="89.2"/><rect x="856.2" y="1078.3" width="3.9" height="45.1"/><rect x="860.1" y="1109.4" width="4.6" height="14"/></clipPath>
<path d="M672.6 1123.4L802.3 1123.4C803.1 1123.3 805.7 1123.6 807.2 1123C808.7 1122.4 810.1 1121.9 811.4 1119.9C812.7 1117.9 813.9 1115.3 815.2 1111.2C816.6 1107.1 818 1101.8 819.5 1095.2C821 1088.7 822.8 1080.6 824.3 1071.7C825.8 1062.8 827.4 1052.4 828.8 1041.7C830.2 1031.1 831.1 1019.4 832.6 1008C834.1 996.6 836.4 984.6 837.9 973.6C839.4 962.5 840.4 951.4 841.7 941.6C843 931.8 844.4 922.6 845.9 914.8C847.4 907 849 900.2 850.6 894.8C852.2 889.3 853.8 885.4 855.2 882.2C856.6 879.1 858 877.3 859.1 875.9C860.2 874.5 861.4 874.2 861.9 873.9L995.5 873.9" fill="none" stroke="#f09028" stroke-width="1" clip-path="url(#clipd)"/>
<line x1="982" y1="886.8" x2="990" y2="886.8" stroke="#7ad87a" stroke-width="1.2"/>
<g font-family="'Liberation Serif',serif" font-size="14.5" fill="#1a1a1a"><text x="666" y="1130.7" text-anchor="end">0</text><text x="666" y="1095.1" text-anchor="end">2</text><text x="666" y="1059.4" text-anchor="end">4</text><text x="666" y="1023.8" text-anchor="end">6</text><text x="666" y="988.1" text-anchor="end">8</text><text x="666" y="952.5" text-anchor="end">10</text><text x="666" y="916.8" text-anchor="end">12</text><text x="666" y="881.2" text-anchor="end">14</text><text x="704.8" y="1145.9" text-anchor="middle">1</text><text x="773.4" y="1145.9" text-anchor="middle">10</text><text x="841.9" y="1145.9" text-anchor="middle">100</text><text x="910.5" y="1145.9" text-anchor="middle">1 000</text><text x="979.1" y="1145.9" text-anchor="middle">10 000</text></g>
<g font-family="'Liberation Serif',serif" font-size="14.2" fill="#1a1a1a"><text x="799.7" y="849.6" font-style="italic">d</text><text x="820.1" y="849.6">82.51 nm</text><text x="800" y="863.3" font-style="italic">PDI</text><text x="835.6" y="863.3">0.124</text></g>
<rect x="808.2" y="845" width="9.5" height="3.3" fill="#8a8a8a"/>
<rect x="824.6" y="858.9" width="8.7" height="3.3" fill="#8a8a8a"/>
<text x="801.3" y="1168" font-family="'Liberation Serif',serif" font-size="16" fill="#1a1a1a">粒径<tspan font-style="italic">d</tspan>/nm</text>
<text transform="translate(645.5 995.9) rotate(-90)" text-anchor="middle" font-family="'Liberation Serif',serif" font-size="16" fill="#1a1a1a">强度/%</text>
<g font-family="'Liberation Serif',serif" font-size="17.4" fill="#1fa0cf"><text x="753" y="1193.6">(</text><text x="760.6" y="1193.6" stroke="#1fa0cf" stroke-width="0.45">d</text><text x="771.8" y="1193.6">)</text><text x="778" y="1193.6" stroke="#1fa0cf" stroke-width="0.45">DAAM/ADH-PUA</text></g>
</svg>
<!--/CHARTS-->
</body>
</html>
